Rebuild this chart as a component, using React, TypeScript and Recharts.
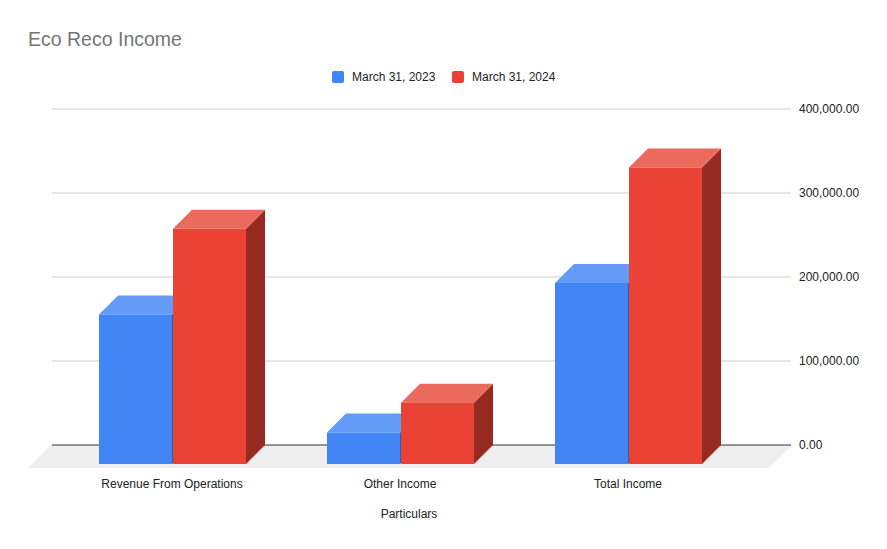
import React from "react";
import { BarChart, Bar, XAxis, YAxis, CartesianGrid } from "recharts";

const categories = ["Revenue From Operations", "Other Income", "Total Income"];
const income2023 = [178000, 37500, 215500];
const income2024 = [280000, 73000, 353000];
const yTicks = [0, 100000, 200000, 300000, 400000];

const seriesNames = ["March 31, 2023", "March 31, 2024"];

// front / top / side shades for the fake 3D look
const BLUE = { front: "#4285f4", top: "#639bf6", side: "#2d5fb8" };
const RED = { front: "#ea4335", top: "#ec695e", side: "#972a20" };

const DEPTH = 19;

const data = categories.map((name, i) => ({
  name,
  y2023: income2023[i],
  y2024: income2024[i],
}));

const FONT = '"Liberation Sans", Arial, sans-serif';

const formatTick = (v: number) =>
  v.toLocaleString("en-US", { minimumFractionDigits: 2, maximumFractionDigits: 2 });

// draws a box: front face pushed down-left, top and side go back to the scale position
const makeBox = (c: { front: string; top: string; side: string }) => (props: any) => {
  const { x, y, width, height } = props;
  if (height == null || width == null) return <g />;
  const d = DEPTH;
  const fy = y + d;
  const top = `${x},${fy} ${x + d},${y} ${x + width + d},${y} ${x + width},${fy}`;
  const side = `${x + width},${fy} ${x + width + d},${y} ${x + width + d},${y + height} ${x + width},${fy + height}`;
  return (
    <g>
      <polygon points={side} fill={c.side} />
      <polygon points={top} fill={c.top} />
      <rect x={x} y={fy} width={width} height={height} fill={c.front} />
    </g>
  );
};

export default function App() {
  return (
    <div
      style={{
        position: "absolute",
        left: 0,
        top: 0,
        width: 887,
        height: 549,
        background: "#fff",
        fontFamily: FONT,
        overflow: "hidden",
      }}
    >
      {/* floor behind the chart */}
      <svg width={887} height={549} style={{ position: "absolute", left: 0, top: 0 }}>
        <polygon points="51,445 792,445 769,468 28,468" fill="#eeeeee" />
      </svg>

      <div
        style={{
          position: "absolute",
          left: 28,
          top: 28,
          fontSize: 19.5,
          lineHeight: "22px",
          color: "#757575",
        }}
      >
        Eco Reco Income
      </div>

      {/* legend */}
      <div style={{ position: "absolute", left: 332, top: 70, height: 14, fontSize: 12, color: "#222" }}>
        {seriesNames.map((s, i) => (
          <div
            key={s}
            style={{
              position: "absolute",
              left: i === 0 ? 0 : 120,
              top: 0,
              display: "flex",
              alignItems: "center",
              whiteSpace: "nowrap",
              lineHeight: "14px",
            }}
          >
            <div
              style={{
                width: 12,
                height: 12,
                borderRadius: 2,
                backgroundColor: i === 0 ? BLUE.front : RED.front,
                marginRight: 8,
              }}
            />
            <span>{s}</span>
          </div>
        ))}
      </div>

      <div style={{ position: "absolute", left: 0, top: 0 }}>
        <BarChart
          width={887}
          height={549}
          data={data}
          margin={{ top: 109, right: 0, left: 52, bottom: 44 }}
          barSize={73}
          barGap={1}
        >
          <CartesianGrid vertical={false} horizontalValues={[100000, 200000, 300000, 400000]} stroke="#cccccc" />
          <CartesianGrid vertical={false} horizontalValues={[0]} stroke="#333333" />
          <XAxis
            dataKey="name"
            height={60}
            padding={{ left: 6, right: 49 }}
            axisLine={false}
            tickLine={false}
            tickSize={0}
            tickMargin={34}
            tick={{ fill: "#222", fontSize: 12, fontFamily: FONT }}
            interval={0}
          />
          <YAxis
            orientation="right"
            width={96}
            domain={[0, 400000]}
            ticks={yTicks}
            axisLine={false}
            tickLine={false}
            tickSize={0}
            tickMargin={8}
            tickFormatter={formatTick}
            tick={{ fill: "#222", fontSize: 12, fontFamily: FONT }}
          />
          <Bar dataKey="y2023" name={seriesNames[0]} fill={BLUE.front} shape={makeBox(BLUE)} isAnimationActive={false} />
          <Bar dataKey="y2024" name={seriesNames[1]} fill={RED.front} shape={makeBox(RED)} isAnimationActive={false} />
        </BarChart>
      </div>

      <div
        style={{
          position: "absolute",
          left: 359,
          top: 507,
          width: 100,
          textAlign: "center",
          fontSize: 12,
          lineHeight: "14px",
          color: "#222",
        }}
      >
        Particulars
      </div>
    </div>
  );
}
